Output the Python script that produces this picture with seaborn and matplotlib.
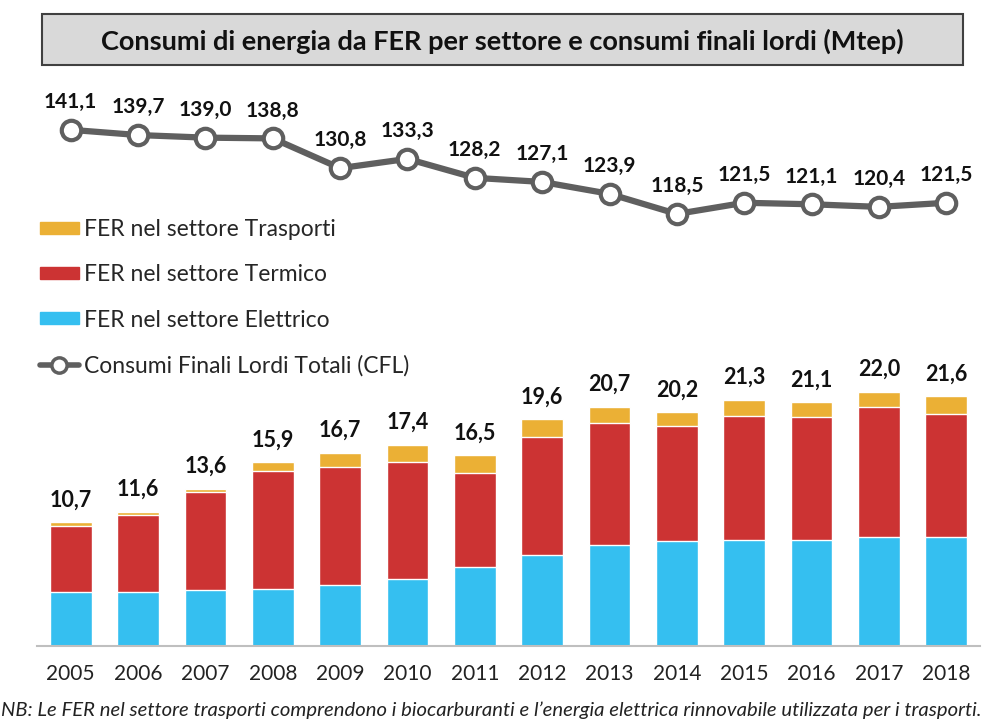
import matplotlib
matplotlib.use("Agg")
import matplotlib.pyplot as plt
from matplotlib.patches import Patch, Rectangle
from matplotlib.lines import Line2D
import seaborn as sns
import pandas as pd

sns.set_style("white")
plt.rcParams['font.family'] = ['Lato', 'DejaVu Sans']

# data (Mtep)
anni = ['2005', '2006', '2007', '2008', '2009', '2010', '2011',
        '2012', '2013', '2014', '2015', '2016', '2017', '2018']
elettrico = [4.7, 4.7, 4.8, 4.9, 5.3, 5.8, 6.8, 7.9, 8.7, 9.1, 9.2, 9.2, 9.4, 9.4]
termico = [5.7, 6.6, 8.5, 10.2, 10.2, 10.1, 8.2, 10.2, 10.6, 9.9, 10.7, 10.6, 11.3, 10.7]
totale_fer = [10.7, 11.6, 13.6, 15.9, 16.7, 17.4, 16.5, 19.6, 20.7, 20.2, 21.3, 21.1, 22.0, 21.6]
cfl = [141.1, 139.7, 139.0, 138.8, 130.8, 133.3, 128.2, 127.1, 123.9, 118.5, 121.5, 121.1, 120.4, 121.5]

C_TRA = '#EBB035'
C_TER = '#CC3333'
C_ELE = '#35BFF0'
C_CFL = '#5f5f5f'

df = pd.DataFrame({'anno': anni, 'ele': elettrico, 'ter': termico, 'tot': totale_fer, 'cfl': cfl})
df['ele_ter'] = df.ele + df.ter
df['pos'] = range(len(df))

W, H = 992, 721
fig = plt.figure(figsize=(W / 100, H / 100), dpi=100)

# bars axes
ax = fig.add_axes([37 / W, 1 - 646 / H, (980 - 37) / W, 266 / H])
for col, c in [('tot', C_TRA), ('ele_ter', C_TER), ('ele', C_ELE)]:
    sns.barplot(data=df, x='anno', y=col, color=c, width=0.62, saturation=1,
                edgecolor='white', linewidth=1, ax=ax)
ax.set_xlim(-0.5, 13.5)
ax.set_ylim(0, 23.0)
ax.set_xlabel('')
ax.set_ylabel('')
ax.set_yticks([])
for s in ['top', 'left', 'right']:
    ax.spines[s].set_visible(False)
ax.spines['bottom'].set_color('#bfbfbf')
ax.spines['bottom'].set_linewidth(1.5)
ax.tick_params(axis='x', length=0, pad=13, labelsize=15, labelcolor='#222222')
for i, v in enumerate(totale_fer):
    ax.annotate(f'{v:.1f}'.replace('.', ','), xy=(i, v), xytext=(0, 16),
                textcoords='offset points', ha='center', va='center',
                fontsize=15.5, fontweight='bold', color='#111111', annotation_clip=False)

# line axes
ax2 = fig.add_axes([37 / W, 1 - 240 / H, (980 - 37) / W, 150 / H])
sns.lineplot(data=df, x='pos', y='cfl', color=C_CFL, linewidth=4.5, marker='o',
             markersize=14, markerfacecolor='white', markeredgecolor=C_CFL,
             markeredgewidth=3, ax=ax2)
ax2.set_xlim(-0.5, 13.5)
ax2.set_ylim(111.5, 151.8)
ax2.axis('off')
for i, v in enumerate(cfl):
    ax2.annotate(f'{v:.1f}'.replace('.', ','), xy=(i, v), xytext=(0, 20),
                 textcoords='offset points', ha='center', va='center',
                 fontsize=15, fontweight='bold', color='#111111', annotation_clip=False)

# title box
fig.patches.append(Rectangle((42 / W, 1 - 65 / H), (963 - 42) / W, 51 / H,
                             transform=fig.transFigure, facecolor='#d9d9d9',
                             edgecolor='#404040', linewidth=1.5))
fig.text(502 / W, 1 - 41 / H, 'Consumi di energia da FER per settore e consumi finali lordi (Mtep)',
         ha='center', va='center', fontsize=19.5, fontweight='bold', color='#111111')

# legend
handles = [Patch(color=C_TRA), Patch(color=C_TER), Patch(color=C_ELE),
           Line2D([], [], color=C_CFL, linewidth=4, marker='o', markersize=11,
                  markerfacecolor='white', markeredgecolor=C_CFL, markeredgewidth=2.5)]
labels = ['FER nel settore Trasporti', 'FER nel settore Termico',
          'FER nel settore Elettrico', 'Consumi Finali Lordi Totali (CFL)']
fig.legend(handles, labels, loc='upper left', bbox_to_anchor=(40 / W, 1 - 219 / H),
           frameon=False, fontsize=16.5, borderpad=0, borderaxespad=0,
           handlelength=1.7, handleheight=0.44, handletextpad=0.23, labelspacing=1.06)

fig.text(1 / W, 1 - 710 / H,
         'NB: Le FER nel settore trasporti comprendono i biocarburanti e l\u2019energia elettrica rinnovabile utilizzata per i trasporti.',
         ha='left', va='center', fontsize=14.6, style='italic', color='#222222')

fig.savefig('out.png', dpi=100)
